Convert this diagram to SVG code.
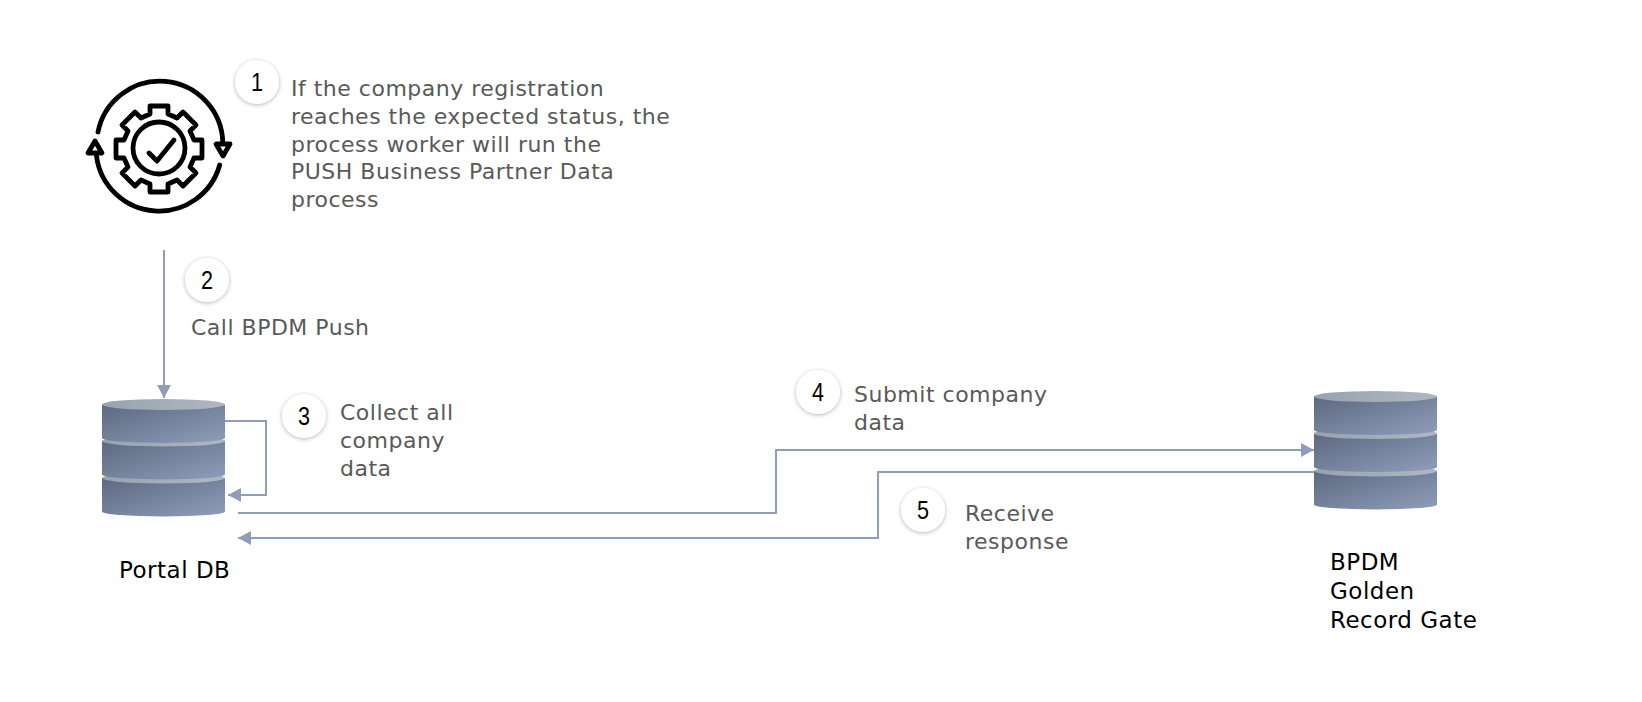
<svg xmlns="http://www.w3.org/2000/svg" width="1642" height="702" viewBox="0 0 1642 702">
<style>
.t{font-family:"DejaVu Sans",sans-serif;font-size:22px;letter-spacing:.5px;fill:#595959}
.b{font-family:"DejaVu Sans",sans-serif;font-size:23px;letter-spacing:.5px;fill:#000}
.n{font-family:"Liberation Sans",sans-serif;font-size:25px;fill:#000;text-anchor:middle}
.c{fill:#fff;filter:url(#s)}
.l{fill:none;stroke:#8f9dbb;stroke-width:2}
.i{fill:none;stroke:#000;stroke-width:4.8;stroke-linecap:round;stroke-linejoin:round}
</style>
<defs>
<filter id="s" x="-30%" y="-30%" width="160%" height="160%"><feDropShadow dx="0" dy="1" stdDeviation="2" flood-color="#000" flood-opacity=".3"/></filter>
<linearGradient id="g" x1="0" y1="0" x2="1" y2="1"><stop offset="0" stop-color="#5d697f"/><stop offset="1" stop-color="#8f9dbb"/></linearGradient>
<linearGradient id="h" x1="0" y1="0" x2="1" y2="0"><stop offset="0" stop-color="#98a2b0"/><stop offset="1" stop-color="#b0b7c2"/></linearGradient>
<marker id="a" markerUnits="userSpaceOnUse" markerWidth="14" markerHeight="14" refX="13" refY="7" orient="auto"><path d="M0 0L13 7L0 14Z" fill="#8f9dbb"/></marker>
<g id="disc">
<path d="M0 5.500V39A61.500 5 0 0 0 123 39V5.500Z" fill="url(#g)"/>
<ellipse cx="61.500" cy="5.500" rx="61.500" ry="5.500" fill="url(#h)"/>
</g>
</defs>
<rect width="1642" height="702" fill="#fff"/>
<g id="connectors">
<path class="l" d="M164 250V398" marker-end="url(#a)"/>
<path class="l" d="M225 421H266V495H228" marker-end="url(#a)"/>
<path class="l" d="M238 513H776V450H1314" marker-end="url(#a)"/>
<path class="l" d="M1314 472H878V538H238" marker-end="url(#a)"/>
</g>
<g id="worker">
<path class="i" d="M98 132A63 63 0 0 1 222.800 143M219.700 165A63 63 0 0 1 96.500 156"/>
<path class="i" d="M88 153L95 141L102 153ZM216 144L230 144L223 156Z"/>
<circle class="i" cx="159" cy="148" r="26"/>
<path class="i" d="M149 153L157 161L174 140"/>
<path class="i" transform="translate(-1 1)" d="M151 105H169V113L178 117L184 111L197 124L191 130L195 139H203V157H195L191 166L197 172L184 185L178 179L169 183V191H151V183L142 179L136 185L123 172L129 166L125 157H117V139H125L129 130L123 124L136 111L142 117L151 113Z"/>
</g>
<g id="portal-db">
<use href="#disc" x="102" y="472.500"/><use href="#disc" x="102" y="435.500"/><use href="#disc" x="102" y="399"/>
<text class="b" x="119" y="578">Portal DB</text>
</g>
<g id="gate-db">
<use href="#disc" x="1314" y="465.500"/><use href="#disc" x="1314" y="428"/><use href="#disc" x="1314" y="391"/>
<text class="b"><tspan x="1330" y="570">BPDM</tspan><tspan x="1330" y="599">Golden</tspan><tspan x="1330" y="628">Record Gate</tspan></text>
</g>
<g id="step-1"><circle class="c" cx="257" cy="82" r="22"/><text class="n" x="257" y="91" textLength="12" lengthAdjust="spacingAndGlyphs">1</text>
<text class="t"><tspan x="291" y="96">If the company registration</tspan><tspan x="291" y="124">reaches the expected status, the</tspan><tspan x="291" y="152">process worker will run the</tspan><tspan x="291" y="179">PUSH Business Partner Data</tspan><tspan x="291" y="207">process</tspan></text></g>
<g id="step-2"><circle class="c" cx="207" cy="280" r="22"/><text class="n" x="207" y="289" textLength="12" lengthAdjust="spacingAndGlyphs">2</text>
<text class="t" x="191" y="335">Call BPDM Push</text></g>
<g id="step-3"><circle class="c" cx="304" cy="416" r="22"/><text class="n" x="304" y="425" textLength="12" lengthAdjust="spacingAndGlyphs">3</text>
<text class="t"><tspan x="340" y="420">Collect all</tspan><tspan x="340" y="448">company</tspan><tspan x="340" y="476">data</tspan></text></g>
<g id="step-4"><circle class="c" cx="818" cy="392" r="22"/><text class="n" x="818" y="401" textLength="12" lengthAdjust="spacingAndGlyphs">4</text>
<text class="t"><tspan x="854" y="402">Submit company</tspan><tspan x="854" y="430">data</tspan></text></g>
<g id="step-5"><circle class="c" cx="923" cy="510" r="22"/><text class="n" x="923" y="519" textLength="12" lengthAdjust="spacingAndGlyphs">5</text>
<text class="t"><tspan x="965" y="521">Receive</tspan><tspan x="965" y="549">response</tspan></text></g>
</svg>
